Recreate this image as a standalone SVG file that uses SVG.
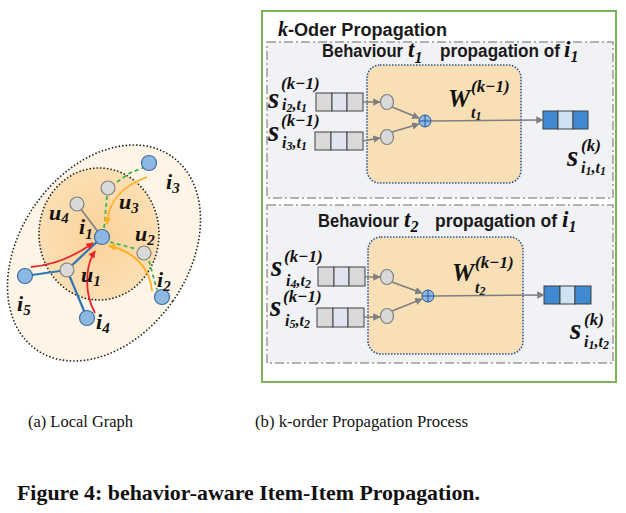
<svg xmlns="http://www.w3.org/2000/svg" width="626" height="513" viewBox="0 0 626 513">
<defs>
<style>
.m{font-family:"Liberation Serif",serif;font-style:italic;font-weight:bold;fill:#111}
.h{font-family:"Liberation Sans",sans-serif;font-weight:bold;font-style:normal;fill:#1a1a1a;font-size:18px}
.cap{font-family:"Liberation Serif",serif;fill:#111}
.bn{fill:#8db8e3;stroke:#3c6ea5;stroke-width:1.2}
.gn{fill:#d9d9d9;stroke:#7f7f7f;stroke-width:1.2}
.dbox{fill:#f1f2f5;stroke:#9a9a9a;stroke-width:1.5;stroke-dasharray:9 3 2 3}
.obox{fill:#f8dfb6;stroke:#2f5597;stroke-width:1.6;stroke-dasharray:1.5 1.5}
.cell{stroke:#404040;stroke-width:1}
.ga{stroke:#7f7f7f;stroke-width:1.5;fill:none;marker-end:url(#ag)}
.lb{font-size:22px}
.ls{font-size:15px}
.s{font-size:29px}
.sp{font-size:17px}
.sb{font-size:16px}
.ss{font-size:12px}
</style>
<marker id="ag" viewBox="0 0 10 10" refX="9" refY="5" markerWidth="5" markerHeight="5" orient="auto"><path d="M0,0L10,5L0,10z" fill="#7f7f7f"/></marker>
<marker id="ar" viewBox="0 0 10 10" refX="9" refY="5" markerWidth="4" markerHeight="4" orient="auto"><path d="M0,0L10,5L0,10z" fill="#e8262a"/></marker>
<marker id="ao" viewBox="0 0 10 10" refX="9" refY="5" markerWidth="4" markerHeight="4" orient="auto"><path d="M0,0L10,5L0,10z" fill="#ffb020"/></marker>
<radialGradient id="ig" cx="0.5" cy="0.5" r="0.5"><stop offset="0" stop-color="#fbd29a"/><stop offset="1" stop-color="#fddfb4"/></radialGradient>
</defs>
<rect width="626" height="513" fill="#fff"/>

<!-- Left local graph -->
<g id="local-graph">
<ellipse cx="104" cy="253" rx="84" ry="118" transform="rotate(35 104 253)" fill="#fef5e6" stroke="#222" stroke-width="1.6" stroke-dasharray="1.5 2"/>
<ellipse cx="99" cy="234" rx="60" ry="66" fill="url(#ig)" stroke="#222" stroke-width="1.6" stroke-dasharray="1.5 2"/>
</g>
<g id="connectors-left">
<line x1="25" y1="276" x2="67" y2="270" stroke="#2e75b6" stroke-width="2.2"/>
<line x1="67" y1="270" x2="102" y2="237" stroke="#2e75b6" stroke-width="2.2"/>
<line x1="67" y1="270" x2="87" y2="318" stroke="#2e75b6" stroke-width="2.2"/>
<line x1="77" y1="204" x2="102" y2="237" stroke="#7f7f7f" stroke-width="1.6"/>
<g stroke="#3cb44b" stroke-width="1.8" stroke-dasharray="4 3" fill="none">
<path d="M145,167 L130,173 L114,184"/>
<line x1="107" y1="196" x2="104" y2="229"/>
<line x1="110" y1="242" x2="137" y2="249"/>
<line x1="149" y1="261" x2="157" y2="290"/>
</g>
<path d="M147,177 C125,185 108,200 107,224" stroke="#ffb020" stroke-width="1.8" fill="none" marker-end="url(#ao)"/>
<path d="M152,291 C150,265 130,250 109,246" stroke="#ffb020" stroke-width="1.8" fill="none" marker-end="url(#ao)"/>
<path d="M31,267 C55,265 75,256 93,243" stroke="#e8262a" stroke-width="1.8" fill="none" marker-end="url(#ar)"/>
<path d="M95,313 C85,295 84,268 95,251" stroke="#e8262a" stroke-width="1.8" fill="none" marker-end="url(#ar)"/>
</g>
<g id="node-i1"><circle class="bn" cx="102" cy="237" r="7.5"/><text class="m lb" x="79" y="234">i<tspan class="ls" dy="5">1</tspan></text></g>
<g id="node-i3"><circle class="bn" cx="149" cy="163" r="7.5"/><text class="m lb" x="166" y="189">i<tspan class="ls" dy="4">3</tspan></text></g>
<g id="node-u3"><circle class="gn" cx="108" cy="188" r="7"/><text class="m lb" x="119" y="209">u<tspan class="ls" dy="4">3</tspan></text></g>
<g id="node-u4"><circle class="gn" cx="77" cy="204" r="7"/><text class="m lb" x="49" y="220">u<tspan class="ls" dy="3">4</tspan></text></g>
<g id="node-u2"><circle class="gn" cx="144" cy="253" r="7"/><text class="m lb" x="135" y="241">u<tspan class="ls" dy="4">2</tspan></text></g>
<g id="node-i2"><circle class="bn" cx="162" cy="297" r="7.5"/><text class="m lb" x="157" y="287">i<tspan class="ls" dy="4">2</tspan></text></g>
<g id="node-u1"><circle class="gn" cx="67" cy="270" r="7"/><text class="m lb" x="81" y="282">u<tspan class="ls" dy="4">1</tspan></text></g>
<g id="node-i5"><circle class="bn" cx="25" cy="276" r="7.5"/><text class="m lb" x="17" y="311">i<tspan class="ls" dy="4">5</tspan></text></g>
<g id="node-i4"><circle class="bn" cx="87" cy="318" r="7.5"/><text class="m lb" x="96" y="329">i<tspan class="ls" dy="4">4</tspan></text></g>

<!-- Right panel -->
<g id="panel">
<rect x="262" y="11" width="354" height="371" fill="#fff" stroke="#7cb35a" stroke-width="2"/>
<text x="278" y="36" font-size="20"><tspan class="m">k</tspan><tspan class="h" font-size="19" textLength="159" lengthAdjust="spacingAndGlyphs">-Oder Propagation</tspan></text>
</g>

<g id="behaviour-t1">
<rect class="dbox" x="267" y="42" width="346" height="156"/>
<text class="m" x="322" y="57" font-size="23"><tspan class="h" textLength="81" lengthAdjust="spacingAndGlyphs">Behaviour</tspan><tspan x="408">t</tspan><tspan font-size="16" dy="6">1</tspan><tspan class="h" x="440" dy="-6" textLength="120" lengthAdjust="spacingAndGlyphs">propagation of</tspan><tspan x="564">i</tspan><tspan font-size="16" dy="5">1</tspan></text>
<rect class="obox" x="367" y="65" width="154" height="118" rx="13"/>
</g>
<g id="vec-i2t1"><rect class="cell" x="316" y="93" width="16" height="18" fill="#d9d9d9"/><rect class="cell" x="332" y="93" width="15" height="18" fill="#dfe4f0"/><rect class="cell" x="347" y="93" width="16" height="18" fill="#d9d9d9"/>
<text class="m" x="268" y="108"><tspan class="s">s</tspan><tspan class="sp" x="281" dy="-19">(k−1)</tspan><tspan class="sb" x="282" dy="21">i</tspan><tspan class="ss" dy="2">2</tspan><tspan class="sb" dy="-2">,t</tspan><tspan class="ss" dy="2">1</tspan></text></g>
<g id="vec-i3t1"><rect class="cell" x="315" y="132" width="16" height="18" fill="#d9d9d9"/><rect class="cell" x="331" y="132" width="16" height="18" fill="#dfe4f0"/><rect class="cell" x="347" y="132" width="16" height="18" fill="#d9d9d9"/>
<text class="m" x="268" y="141"><tspan class="s">s</tspan><tspan class="sp" x="281" dy="-15">(k−1)</tspan><tspan class="sb" x="282" dy="22">i</tspan><tspan class="ss" dy="2">3</tspan><tspan class="sb" dy="-2">,t</tspan><tspan class="ss" dy="2">1</tspan></text></g>
<g id="agg-t1">
<ellipse class="gn" cx="387" cy="102" rx="6.5" ry="7.5"/>
<ellipse class="gn" cx="387" cy="137" rx="6.5" ry="7.5"/>
<circle cx="425" cy="121" r="6" fill="#8db8e3" stroke="#2f5597" stroke-width="1"/>
<path d="M419,121H431M425,115V127" stroke="#2f5597" stroke-width="1"/>
<text class="m" x="448" y="107"><tspan font-size="25">W</tspan><tspan class="sp" x="471" dy="-15">(k−1)</tspan><tspan class="sb" x="471" dy="26">t</tspan><tspan class="ss" dy="2">1</tspan></text>
</g>
<g id="out-t1"><rect class="cell" x="543" y="111" width="15" height="18" fill="#3f8ad1"/><rect class="cell" x="558" y="111" width="15" height="18" fill="#cfe2f3"/><rect class="cell" x="573" y="111" width="15" height="18" fill="#3f8ad1"/>
<text class="m" x="567" y="166"><tspan class="s">s</tspan><tspan class="sp" x="581" dy="-15">(k)</tspan><tspan class="sb" x="581" dy="22">i</tspan><tspan class="ss" dy="2">1</tspan><tspan class="sb" dy="-2">,t</tspan><tspan class="ss" dy="2">1</tspan></text></g>

<g id="behaviour-t2">
<rect class="dbox" x="267" y="205" width="346" height="158"/>
<text class="m" x="318" y="227" font-size="23"><tspan class="h" textLength="81" lengthAdjust="spacingAndGlyphs">Behaviour</tspan><tspan x="404">t</tspan><tspan font-size="16" dy="5">2</tspan><tspan class="h" x="435" dy="-5" textLength="122" lengthAdjust="spacingAndGlyphs">propagation of</tspan><tspan x="562">i</tspan><tspan font-size="16" dy="5">1</tspan></text>
<rect class="obox" x="368" y="237" width="155" height="117" rx="13"/>
</g>
<g id="vec-i4t2"><rect class="cell" x="318" y="267" width="16" height="19" fill="#d9d9d9"/><rect class="cell" x="334" y="267" width="15" height="19" fill="#dfe4f0"/><rect class="cell" x="349" y="267" width="16" height="19" fill="#d9d9d9"/>
<text class="m" x="271" y="276"><tspan class="s">s</tspan><tspan class="sp" x="284" dy="-14">(k−1)</tspan><tspan class="sb" x="286" dy="24">i</tspan><tspan class="ss" dy="2">4</tspan><tspan class="sb" dy="-2">,t</tspan><tspan class="ss" dy="2">2</tspan></text></g>
<g id="vec-i5t2"><rect class="cell" x="317" y="308" width="16" height="19" fill="#d9d9d9"/><rect class="cell" x="333" y="308" width="15" height="19" fill="#dfe4f0"/><rect class="cell" x="348" y="308" width="16" height="19" fill="#d9d9d9"/>
<text class="m" x="270" y="316"><tspan class="s">s</tspan><tspan class="sp" x="283" dy="-14">(k−1)</tspan><tspan class="sb" x="285" dy="24">i</tspan><tspan class="ss" dy="2">5</tspan><tspan class="sb" dy="-2">,t</tspan><tspan class="ss" dy="2">2</tspan></text></g>
<g id="agg-t2">
<ellipse class="gn" cx="387" cy="277" rx="6.5" ry="7.5"/>
<ellipse class="gn" cx="387" cy="316" rx="6.5" ry="7.5"/>
<circle cx="428" cy="296" r="6" fill="#8db8e3" stroke="#2f5597" stroke-width="1"/>
<path d="M422,296H434M428,290V302" stroke="#2f5597" stroke-width="1"/>
<text class="m" x="452" y="281"><tspan font-size="25">W</tspan><tspan class="sp" x="475" dy="-13">(k−1)</tspan><tspan class="sb" x="475" dy="25">t</tspan><tspan class="ss" dy="2">2</tspan></text>
</g>
<g id="out-t2"><rect class="cell" x="544" y="286" width="16" height="18" fill="#3f8ad1"/><rect class="cell" x="560" y="286" width="15" height="18" fill="#cfe2f3"/><rect class="cell" x="575" y="286" width="16" height="18" fill="#3f8ad1"/>
<text class="m" x="570" y="339"><tspan class="s">s</tspan><tspan class="sp" x="584" dy="-14">(k)</tspan><tspan class="sb" x="584" dy="22">i</tspan><tspan class="ss" dy="2">1</tspan><tspan class="sb" dy="-2">,t</tspan><tspan class="ss" dy="2">2</tspan></text></g>

<g id="connectors-right">
<line class="ga" x1="363" y1="102" x2="380" y2="102"/>
<line class="ga" x1="363" y1="141" x2="380" y2="138"/>
<line class="ga" x1="392" y1="107" x2="419" y2="118"/>
<line class="ga" x1="392" y1="132" x2="419" y2="124"/>
<line class="ga" x1="431" y1="121" x2="543" y2="120"/>
<line class="ga" x1="365" y1="277" x2="380" y2="277"/>
<line class="ga" x1="364" y1="317" x2="380" y2="317"/>
<line class="ga" x1="392" y1="282" x2="422" y2="293"/>
<line class="ga" x1="392" y1="311" x2="422" y2="299"/>
<line class="ga" x1="434" y1="296" x2="544" y2="295"/>
</g>

<g id="captions">
<text class="cap" x="28" y="427" font-size="16" textLength="105" lengthAdjust="spacingAndGlyphs">(a)  Local Graph</text>
<text class="cap" x="255" y="427" font-size="16" textLength="213" lengthAdjust="spacingAndGlyphs">(b)  k-order Propagation Process</text>
<text class="cap" x="17" y="500" font-size="21" font-weight="bold" textLength="463" lengthAdjust="spacingAndGlyphs">Figure 4: behavior-aware Item-Item Propagation.</text>
</g>
</svg>
